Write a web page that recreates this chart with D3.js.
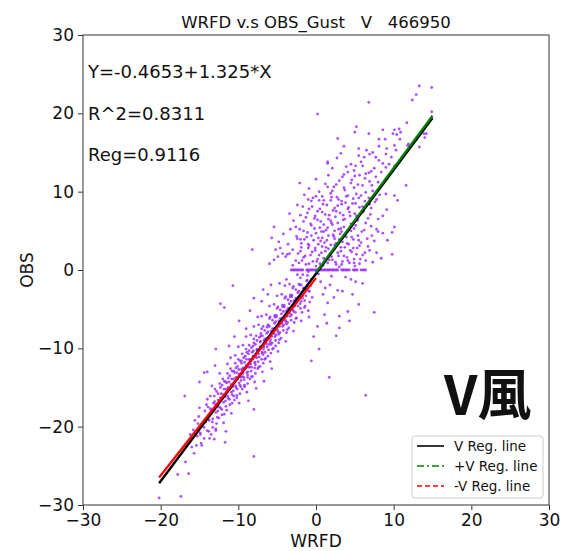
<!DOCTYPE html>
<html><head><meta charset="utf-8">
<script src="https://cdn.jsdelivr.net/npm/d3@7"></script>
<style>body{margin:0;background:#fff}svg{display:block}text{font-family:"DejaVu Sans",sans-serif;fill:#111}</style>
</head><body><svg id="c" width="561" height="551"></svg>
<script>
const xTicks=[-30,-20,-10,0,10,20,30];
const yTicks=[-30,-20,-10,0,10,20,30];
const titleText="WRFD v.s OBS_Gust   V   466950";
const annotations=["Y=-0.4653+1.325*X","R^2=0.8311","Reg=0.9116"];
const legendLabels=["V Reg. line","+V Reg. line","-V Reg. line"];
// regression lines: [intercept, slope, xStart, xEnd]
const regAll=[-0.4653,1.325,-20.2,15];
const regPos=[-0.3,1.333,0,15];
const regNeg=[-1.04,1.26,-20.2,0];
// scatter (WRFD, OBS)
const negPts=[[-20.2,-29.1],[-17.4,-28.9],[-17.8,-26.1],[-16.4,-26.0],[-16.8,-24.5],[-15.4,-22.4],[-14.7,-22.4],[-14.4,-21.5],[-13.7,-21.5],[-13.1,-21.6],[-11.7,-22.0],[-14.9,-21.0],[-12.9,-20.5],[-11.6,-20.6],[-8.0,-23.8],[-16.9,-16.1],
[-16.2,-21.0],[-15.8,-20.4],[-15.6,-19.2],[-16.0,-22.6],[-15.7,-23.4],
[-15.2,-19.6],[-14.9,-20.8],[-15.1,-18.7],[-14.7,-19.9],[-15.3,-21.2],[-14.8,-22.1],[-15.0,-17.6],
[-14.3,-18.0],[-13.9,-19.1],[-14.1,-17.2],[-13.7,-18.6],[-14.4,-20.1],[-13.8,-20.6],[-14.0,-16.5],[-13.6,-17.7],[-14.2,-19.4],[-13.5,-21.0],
[-13.2,-17.0],[-12.9,-18.2],[-13.1,-16.1],[-12.7,-17.5],[-13.3,-19.0],[-12.8,-19.6],[-13.0,-15.2],[-12.6,-16.6],[-13.4,-14.8],[-12.5,-18.9],[-12.9,-20.3],[-13.1,-17.8],
[-12.2,-15.8],[-11.9,-16.9],[-12.1,-14.7],[-11.7,-16.2],[-12.3,-17.6],[-11.8,-18.4],[-12.0,-13.9],[-11.6,-15.2],[-12.4,-13.2],[-11.5,-17.9],[-11.9,-19.5],[-12.1,-16.5],[-11.6,-14.3],[-12.3,-15.0],
[-11.2,-14.3],[-10.9,-15.6],[-11.1,-13.5],[-10.7,-14.9],[-11.3,-16.4],[-10.8,-17.0],[-11.0,-12.6],[-10.6,-13.9],[-11.4,-12.0],[-10.5,-16.6],[-10.9,-18.3],[-11.1,-15.2],[-10.6,-12.9],[-11.3,-13.8],[-10.8,-15.9],[-11.0,-11.2],
[-10.2,-13.1],[-9.9,-14.4],[-10.1,-12.3],[-9.7,-13.7],[-10.3,-15.0],[-9.8,-15.8],[-10.0,-11.4],[-9.6,-12.7],[-10.4,-10.9],[-9.5,-15.2],[-9.9,-17.0],[-10.1,-13.9],[-9.6,-11.6],[-10.3,-12.5],[-9.8,-14.7],[-10.0,-9.8],[-9.4,-13.2],[-10.2,-16.3],
[-9.2,-11.8],[-8.9,-13.1],[-9.1,-11.0],[-8.7,-12.4],[-9.3,-13.7],[-8.8,-14.5],[-9.0,-10.1],[-8.6,-11.4],[-9.4,-9.6],[-8.5,-13.9],[-8.9,-15.6],[-9.1,-12.6],[-8.6,-10.3],[-9.3,-11.2],[-8.8,-13.4],[-9.0,-8.5],[-8.4,-12.0],[-9.2,-14.9],[-8.7,-16.7],
[-8.2,-10.5],[-7.9,-11.8],[-8.1,-9.7],[-7.7,-11.1],[-8.3,-12.4],[-7.8,-13.2],[-8.0,-8.8],[-7.6,-10.1],[-8.4,-8.3],[-7.5,-12.6],[-7.9,-14.3],[-8.1,-11.3],[-7.6,-9.0],[-8.3,-9.9],[-7.8,-12.1],[-8.0,-7.2],[-7.4,-10.7],[-8.2,-13.6],[-7.7,-15.1],[-8.0,-17.8],
[-7.2,-9.2],[-6.9,-10.5],[-7.1,-8.4],[-6.7,-9.8],[-7.3,-11.1],[-6.8,-11.9],[-7.0,-7.5],[-6.6,-8.8],[-7.4,-7.0],[-6.5,-11.3],[-6.9,-13.0],[-7.1,-10.0],[-6.6,-7.7],[-7.3,-8.6],[-6.8,-10.8],[-7.0,-5.9],[-6.4,-9.4],[-7.2,-12.3],[-6.7,-14.2],
[-6.2,-7.9],[-5.9,-9.2],[-6.1,-7.1],[-5.7,-8.5],[-6.3,-9.8],[-5.8,-10.6],[-6.0,-6.2],[-5.6,-7.5],[-6.4,-5.7],[-5.5,-10.0],[-5.9,-11.7],[-6.1,-8.7],[-5.6,-6.4],[-6.3,-7.3],[-5.8,-9.5],[-6.0,-4.6],[-5.4,-8.1],[-6.2,-11.0],[-5.7,-12.6],
[-5.2,-6.6],[-4.9,-7.9],[-5.1,-5.8],[-4.7,-7.2],[-5.3,-8.5],[-4.8,-9.3],[-5.0,-4.9],[-4.6,-6.2],[-5.4,-4.4],[-4.5,-8.7],[-4.9,-10.4],[-5.1,-7.4],[-4.6,-5.1],[-5.3,-6.0],[-4.8,-8.2],[-5.0,-3.3],[-4.4,-6.8],[-5.2,-9.7],
[-4.2,-5.3],[-3.9,-6.6],[-4.1,-4.5],[-3.7,-5.9],[-4.3,-7.2],[-3.8,-8.0],[-4.0,-3.6],[-3.6,-4.9],[-4.4,-3.1],[-3.5,-7.4],[-3.9,-9.1],[-4.1,-6.1],[-3.6,-3.8],[-4.3,-4.7],[-3.8,-6.9],[-4.0,-2.0],[-3.4,-5.5],
[-3.2,-4.0],[-2.9,-5.3],[-3.1,-3.2],[-2.7,-4.6],[-3.3,-5.9],[-2.8,-6.7],[-3.0,-2.3],[-2.6,-3.6],[-3.4,-1.8],[-2.5,-6.1],[-2.9,-7.8],[-3.1,-4.8],[-2.6,-2.5],[-3.3,-3.4],
[-2.2,-2.7],[-1.9,-4.0],[-2.1,-1.9],[-1.7,-3.3],[-2.3,-4.6],[-1.8,-5.4],[-2.0,-1.0],[-1.6,-2.3],[-2.4,-0.6],[-1.5,-4.8],[-1.9,-6.5],[-2.1,-3.5],
[-1.2,-1.4],[-0.9,-2.7],[-1.1,-0.7],[-0.7,-2.0],[-1.3,-3.3],[-0.8,-4.1],[-1.0,-5.2],[-0.6,-1.2],[-0.5,-3.5],[-0.9,-6.0],
[0.6,-1.5],[1.2,-2.3],[0.9,-3.1],[1.8,-1.9],[2.3,-3.5],[1.5,-4.2],[2.8,-2.6],[3.4,-2.7],[4.5,-1.2],[5.1,-1.5],[6.0,-1.7],[4.7,-3.1],[5.5,-4.4],[3.0,-5.9],[4.1,-5.3],[1.1,-5.7],[2.6,-8.4],[1.7,-13.7],[-0.6,-11.6],[6.4,-16.0],[7.5,-5.4],[4.3,-6.5],[3.0,-7.4],[0.4,-10.1],[0.2,-7.2],[1.4,-6.8],[-0.3,-8.5],[2.0,-0.8],[0.3,-0.5],[3.8,-0.9],
[-10.7,-2.0],[-12.3,-4.3],[-11.8,-4.8],[-9.9,-6.5],[-12.9,-10.1],[-14.4,-13.1],[-14.0,-13.0],[-7.0,-4.0],[-5.8,-1.9],[-4.7,-1.7],[-3.8,-1.2],[-6.2,-3.1],[-8.5,-5.2],[-9.0,-7.5],[-10.5,-8.5],[-11.2,-9.7],[-13.0,-12.2],[-15.0,-14.3],[-8.0,-3.6],[-7.5,-6.0],[-6.8,-2.5]];
const negCorePts=[[-13.9,-17.5],[-13.75,-19.2],[-14.0,-20.5],[-13.5,-17.9],[-13.35,-19.4],[-13.6,-16.1],[-13.2,-17.9],[-13.05,-16.8],[-13.3,-20.1],[-12.8,-15.5],[-12.65,-18.0],[-12.9,-17.2],
[-12.6,-15.8],[-12.45,-17.5],[-12.7,-18.8],[-12.3,-16.3],[-12.15,-17.8],[-12.4,-14.5],[-12.0,-16.3],[-11.85,-15.2],[-12.1,-18.5],[-11.8,-14.2],[-11.65,-16.7],[-11.9,-15.9],
[-11.5,-14.4],[-11.35,-16.1],[-11.6,-17.4],[-11.3,-15.0],[-11.15,-16.5],[-11.4,-13.2],[-11.0,-15.0],[-10.85,-13.9],[-11.1,-17.2],[-10.8,-12.9],[-10.65,-15.4],[-10.9,-14.6],
[-10.5,-13.1],[-10.35,-14.8],[-10.6,-16.1],[-10.3,-13.7],[-10.15,-15.2],[-10.4,-11.9],[-10.1,-13.8],[-9.95,-12.7],[-10.2,-16.0],[-9.8,-11.6],[-9.65,-14.1],[-9.9,-13.3],
[-9.6,-11.9],[-9.45,-13.6],[-9.7,-14.9],[-9.4,-12.5],[-9.25,-14.0],[-9.5,-10.7],[-9.1,-12.5],[-8.95,-11.4],[-9.2,-14.7],[-8.9,-10.5],[-8.75,-13.0],[-9.0,-12.2],
[-8.7,-10.7],[-8.55,-12.4],[-8.8,-13.7],[-8.5,-11.4],[-8.35,-12.9],[-8.6,-9.6],[-8.2,-11.4],[-8.05,-10.3],[-8.3,-13.6],[-8.0,-9.3],[-7.85,-11.8],[-8.1,-11.0],
[-7.8,-9.5],[-7.65,-11.2],[-7.9,-12.5],[-7.6,-10.2],[-7.45,-11.7],[-7.7,-8.4],[-7.3,-10.2],[-7.15,-9.1],[-7.4,-12.4],[-7.1,-8.1],[-6.95,-10.6],[-7.2,-9.8],
[-6.9,-8.4],[-6.75,-10.1],[-7.0,-11.4],[-6.7,-9.0],[-6.55,-10.5],[-6.8,-7.2],[-6.5,-9.2],[-6.35,-8.1],[-6.6,-11.4],[-6.2,-7.0],[-6.05,-9.5],[-6.3,-8.7],
[-6.0,-7.2],[-5.85,-8.9],[-6.1,-10.2],[-5.8,-7.8],[-5.65,-9.3],[-5.9,-6.0],[-5.5,-7.9],[-5.35,-6.8],[-5.6,-10.1],[-5.3,-5.8],[-5.15,-8.3],[-5.4,-7.5],
[-5.1,-6.0],[-4.95,-7.7],[-5.2,-9.0],[-4.8,-6.5],[-4.65,-8.0],[-4.9,-4.7],[-4.6,-6.7],[-4.45,-5.6],[-4.7,-8.9],[-4.3,-4.5],[-4.15,-7.0],[-4.4,-6.2],
[-4.1,-4.7],[-3.95,-6.4],[-4.2,-7.7],[-3.8,-5.2],[-3.65,-6.7],[-3.9,-3.4],[-3.6,-5.4],[-3.45,-4.3],[-3.7,-7.6],[-3.3,-3.2],[-3.15,-5.7],[-3.4,-4.9],
[-3.1,-3.4],[-2.95,-5.1],[-3.2,-6.4],[-2.8,-3.9],[-2.65,-5.4],[-2.9,-2.1],[-2.5,-4.0],[-2.35,-2.9],[-2.6,-6.2],[-2.2,-1.8],[-2.05,-4.3],[-2.3,-3.5],
[-1.9,-1.9],[-1.75,-3.6],[-2.0,-4.9],[-1.6,-2.4],[-1.45,-3.9],[-1.7,-0.6],[-1.3,-2.4],[-1.15,-1.3],[-1.4,-4.6],[-1.0,-0.2],[-0.85,-2.7],[-1.1,-1.9]];
const posPts=[[-6.0,0.8],[-5.4,1.3],[-4.9,1.7],[-4.6,2.8],[-4.3,2.1],[-3.7,2.0],[-3.9,1.7],[-3.4,2.1],[-3.0,2.6],[-2.6,1.2],[-2.2,0.9],[-2.0,2.4],[-1.6,1.6],[-1.3,0.7],[-1.0,2.8],[-0.7,1.9],[-0.4,1.1],[-0.1,2.5],[0.2,1.4],[0.5,0.8],[0.7,2.2],[1.0,1.5],[1.3,2.9],[1.5,0.9],[1.8,2.0],[2.1,1.3],[2.3,2.7],[2.6,0.7],[2.9,1.8],[3.2,2.4],[3.4,1.1],[3.7,2.9],[4.0,1.6],[4.3,0.9],[4.6,2.3],[4.9,1.4],[5.3,2.8],[5.6,0.8],[6.0,1.9],[6.4,1.2],[6.9,2.5],[7.3,1.0],[7.8,2.2],[8.4,1.5],[9.8,2.0],[-8.2,2.6],[-5.2,2.6],[0.0,0.5],[3.0,0.4],[5.0,0.5],[-3.0,0.6],
[-5.7,4.1],[-5.4,5.5],[-4.8,3.6],[-4.2,4.6],[-3.6,3.3],[-3.3,5.2],[-2.6,5.5],[-2.4,4.0],[-1.9,3.4],[-1.6,5.0],[-1.2,4.2],[-0.9,3.1],[-0.6,5.7],[-0.3,3.8],[0.0,4.7],[0.3,3.3],[0.5,5.4],[0.8,4.1],[1.1,3.5],[1.3,5.1],[1.6,4.4],[1.9,3.2],[2.1,5.8],[2.4,4.0],[2.6,3.4],[2.9,5.2],[3.1,4.6],[3.4,3.6],[3.6,5.5],[3.9,4.2],[4.2,3.3],[4.5,5.0],[4.8,3.9],[5.1,5.7],[5.4,4.4],[5.8,3.5],[6.2,5.1],[6.6,4.0],[7.1,5.6],[7.5,3.7],[8.0,4.9],[8.6,4.7],[9.2,3.8],[9.8,4.8],[10.1,5.5],[-2.0,3.9],[1.0,4.9],[2.2,4.5],[3.3,4.9],[0.6,3.7],
[-3.4,7.2],[-2.9,6.3],[-2.4,8.3],[-2.0,7.0],[-1.3,6.7],[-0.9,7.8],[-0.6,8.8],[-0.2,6.6],[0.2,7.5],[0.6,6.2],[0.9,8.4],[1.2,7.1],[1.6,6.5],[1.9,8.9],[2.2,7.6],[2.5,6.8],[2.8,8.2],[3.1,7.3],[3.5,6.4],[3.8,8.6],[4.1,7.8],[4.4,6.9],[4.7,8.5],[5.0,7.2],[5.3,6.3],[5.6,8.0],[6.0,7.4],[6.3,8.8],[6.7,6.6],[7.1,7.9],[7.6,8.7],[8.0,6.5],[8.6,6.9],[9.1,7.7],[10.5,8.9],[-1.7,8.1],[0.4,8.9],[3.3,8.8],[4.9,6.1],[2.0,6.0],
[-2.1,11.1],[-1.5,9.6],[-0.9,10.4],[-0.4,9.2],[0.0,11.6],[0.4,10.0],[0.8,9.4],[1.2,11.0],[1.6,12.1],[1.9,9.8],[2.3,10.6],[2.7,9.3],[3.0,11.4],[3.4,11.9],[3.7,10.2],[4.1,9.5],[4.5,11.1],[4.9,10.5],[5.2,9.7],[5.6,12.1],[6.0,10.8],[6.4,9.9],[6.9,11.3],[7.3,10.1],[7.7,11.9],[8.2,9.6],[9.0,9.7],[10.1,9.5],[11.6,10.8],[-1.0,9.0],[2.1,10.1],[5.5,9.2],
[1.5,13.6],[2.1,13.0],[2.7,14.3],[3.2,14.9],[3.9,13.2],[4.1,12.5],[4.5,13.5],[4.9,12.7],[5.1,13.3],[5.8,13.8],[6.0,13.3],[6.2,14.4],[6.4,12.3],[6.5,15.3],[6.9,14.8],[7.1,12.6],[7.3,15.0],[7.7,14.4],[8.1,14.0],[8.4,12.5],[8.6,13.6],[9.0,13.1],[9.0,14.8],[9.4,13.5],[9.7,14.4],[10.1,13.3],[1.5,13.8],[3.6,12.2],[5.5,14.6],[7.5,13.0],
[2.8,16.8],[3.6,15.8],[5.0,17.6],[5.2,18.3],[5.5,15.5],[6.8,17.4],[8.1,15.8],[8.1,16.7],[8.6,17.9],[8.9,16.7],[9.1,15.5],[9.9,17.4],[10.1,15.9],[10.3,15.3],[10.4,17.3],[10.7,18.0],[10.8,16.7],[10.9,17.6],[11.8,15.9],[11.9,16.1],[13.3,15.7],[14.0,16.9],[14.2,17.4],[11.7,18.8],[10.1,17.9],[13.9,17.4],
[13.3,23.5],[14.9,23.3],[12.9,22.4],[12.4,21.7],[6.8,21.4],[0.2,19.9],[14.9,20.2]];
const posCorePts=[[-1.8,1.2],[-0.9,0.8],[0.1,1.1],[0.9,0.6],[1.7,1.3],[2.5,1.0],[3.3,0.7],[4.1,1.2],[4.9,0.9],[5.7,1.4],
[-2.3,2.1],[-1.4,1.8],[-0.5,2.3],[0.4,1.9],[1.2,2.4],[2.0,1.7],[2.8,2.2],[3.6,1.8],[4.4,2.5],[5.2,2.0],[6.3,2.2],
[-1.9,2.9],[-1.0,3.3],[-0.1,2.8],[0.8,3.0],[1.6,2.7],[2.4,3.2],[3.2,2.9],[4.0,3.4],[4.8,2.8],[5.6,3.1],[6.7,3.0],
[-2.5,4.3],[-1.5,3.9],[-0.6,4.4],[0.3,4.1],[1.4,3.8],[2.3,4.3],[3.0,3.9],[3.8,4.5],[4.6,4.2],[5.5,3.8],[7.2,4.4],
[-2.1,5.2],[-1.1,4.8],[-0.2,5.3],[0.7,4.9],[1.5,5.4],[2.4,5.0],[3.2,5.3],[4.0,4.8],[4.9,5.3],[5.9,4.9],[7.8,5.2],
[-1.6,6.2],[-0.7,5.9],[0.2,6.4],[1.0,5.8],[1.9,6.3],[2.8,6.0],[3.7,6.5],[4.5,5.9],[5.4,6.4],[6.4,6.0],
[-1.1,7.3],[-0.1,6.9],[0.8,7.4],[1.7,7.0],[2.6,7.5],[3.5,7.0],[4.3,7.4],[5.2,6.9],[6.1,7.5],[7.0,7.1],
[-0.5,8.1],[0.5,7.8],[1.4,8.3],[2.4,7.9],[3.3,8.4],[4.2,8.0],[5.1,8.5],[6.0,8.1],[6.9,8.4],
[0.0,9.4],[1.0,8.9],[2.0,9.3],[2.9,9.0],[3.9,9.4],[4.8,9.1],[5.8,9.5],[6.8,9.2],[7.8,9.0],
[1.5,10.6],[2.6,10.9],[3.6,10.5],[4.6,11.5],[5.4,10.9],[6.3,11.7],[7.2,10.8],[8.0,11.2],[5.0,12.0],[6.8,12.4]];
const zeroRowX=[-3.2,-3.0,-2.85,-2.7,-2.5,-2.35,-2.2,-2.0,-1.85,-1.7,-1.2,-1.05,-0.9,-0.7,-0.55,-0.4,-0.2,0.0,0.15,0.3,0.5,0.65,0.8,1.0,1.15,1.3,1.5,1.65,1.8,2.0,2.15,2.3,2.5,2.65,2.8,3.3,3.45,3.6,3.8,3.95,4.1,4.3,4.8,4.95,5.1,5.3,5.8,6.0,6.2,6.4];

const svg=d3.select("#c");
const x=d3.scaleLinear().domain([-30,30]).range([83,549]);
const y=d3.scaleLinear().domain([-30,30]).range([505,35]);

const pts=negPts.concat(negCorePts,posPts,posCorePts,zeroRowX.map(v=>[v,0]));
svg.append("g").selectAll("circle").data(pts).join("circle")
  .attr("cx",d=>x(d[0])).attr("cy",d=>y(d[1])).attr("r",1.4)
  .attr("fill","#9b30ff").attr("opacity",0.85);

function regLine(r,color,dash,w){
  const seg=[[r[2],r[0]+r[1]*r[2]],[r[3],r[0]+r[1]*r[3]]];
  svg.append("path").attr("d",d3.line().x(d=>x(d[0])).y(d=>y(d[1]))(seg))
    .attr("stroke",color).attr("stroke-width",w).attr("fill","none")
    .attr("stroke-dasharray",dash);
}
regLine(regAll,"#000",null,2.4);
regLine(regPos,"#008000",null,2.2);
regLine(regNeg,"#ff0000",null,2.2);

// axes
const xa=svg.append("g").attr("transform","translate(0,505)")
  .call(d3.axisBottom(x).tickValues(xTicks).tickSize(5).tickPadding(4).tickFormat(d=>d<0?"\u2212"+(-d):d));
const ya=svg.append("g").attr("transform","translate(83,0)")
  .call(d3.axisLeft(y).tickValues(yTicks).tickSize(5).tickPadding(4).tickFormat(d=>d<0?"\u2212"+(-d):d));
[xa,ya].forEach(g=>{g.select(".domain").remove();
  g.selectAll("line").attr("stroke","#333").attr("stroke-width",1);
  g.selectAll("text").style("font-size","17px").style("font-family","DejaVu Sans").attr("fill","#111");});
svg.append("rect").attr("x",83).attr("y",35).attr("width",466).attr("height",470)
  .attr("fill","none").attr("stroke","#555").attr("stroke-width",1.2);

svg.append("text").attr("x",316).attr("y",28).attr("text-anchor","middle").style("font-size","16.5px").style("white-space","pre").text(titleText);
svg.append("text").attr("x",316).attr("y",547).attr("text-anchor","middle").style("font-size","17px").text("WRFD");
svg.append("text").attr("transform","translate(33,270) rotate(-90)").attr("text-anchor","middle").style("font-size","17px").text("OBS");
annotations.forEach((t,i)=>svg.append("text").attr("x",88).attr("y",[78,120,161][i]).style("font-size","18px").text(t));

svg.append("text").attr("x",444).attr("y",415).style("font-size","54px").style("font-weight","bold")
  .style("font-family","'Noto Sans CJK TC',sans-serif").text("V風");

// legend
const lg=svg.append("g");
lg.append("rect").attr("x",412).attr("y",436).attr("width",131).attr("height",62).attr("rx",3)
  .attr("fill","#fff").attr("fill-opacity",0.8).attr("stroke","#ccc");
const lstyles=[["#000",null],["#008000","7,3,2,3"],["#ff0000","5,3"]];
legendLabels.forEach((t,i)=>{
  const yy=446+i*20;
  lg.append("line").attr("x1",417).attr("x2",444).attr("y1",yy).attr("y2",yy)
    .attr("stroke",lstyles[i][0]).attr("stroke-width",1.6).attr("stroke-dasharray",lstyles[i][1]);
  lg.append("text").attr("x",454).attr("y",yy+4.5).style("font-size","13.5px").attr("fill","#222").text(t);
});
</script></body></html>
